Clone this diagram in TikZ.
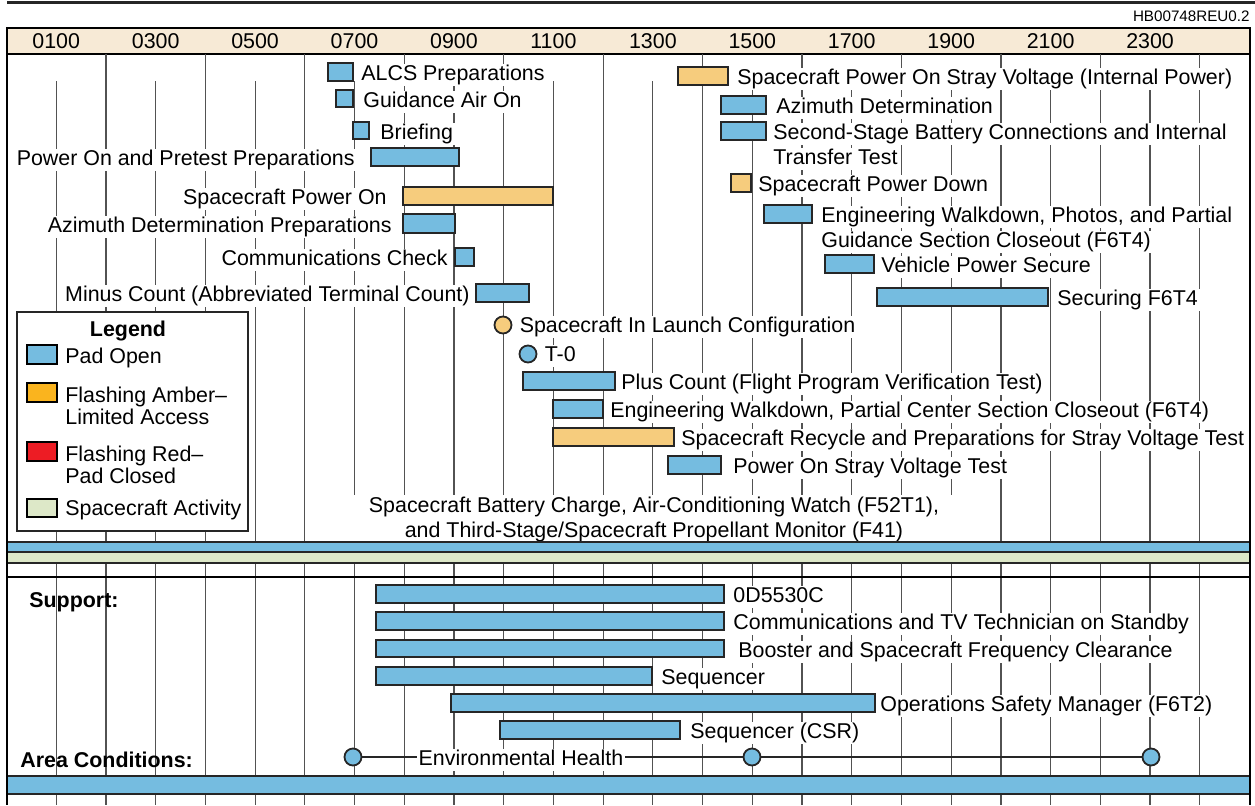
\documentclass[tikz,border=0pt]{standalone}
\usepackage{fontspec}
\setmainfont{Liberation Sans}
\usetikzlibrary{positioning}
\definecolor{padblue}{RGB}{117,188,224}
\definecolor{amberpale}{RGB}{246,204,125}
\definecolor{amberlgd}{RGB}{250,180,30}
\definecolor{redlgd}{RGB}{237,28,36}
\definecolor{scgreen}{RGB}{221,232,200}
\definecolor{hdrbeige}{RGB}{247,234,214}
\definecolor{edgegray}{RGB}{38,38,38}
\tikzset{
  gridline/.style={draw=black!68, line width=0.6pt},
  padbar/.style={draw=edgegray, fill=padblue, line width=0.9pt},
  ambbar/.style={draw=edgegray, fill=amberpale, line width=0.9pt},
  lbl/.style={fill=white, inner xsep=1pt, inner ysep=0.4pt, text height=7.9pt, text depth=2.3pt, yshift=-1pt, font=\fontsize{10.7}{12.5}\selectfont},
  plaintxt/.style={inner sep=0pt, font=\fontsize{10.7}{12.5}\selectfont},
  boldtxt/.style={inner sep=0pt, font=\fontsize{10.7}{12.5}\selectfont\bfseries},
  evtdot/.style={circle, draw=edgegray, line width=0.9pt, minimum size=8.5pt, inner sep=0pt},
  swatch/.style={draw=black, line width=0.9pt},
}
\begin{document}
\begin{tikzpicture}[x=0.5pt, y=-0.5pt]
  \useasboundingbox (0,0) rectangle (1255,805);

  % Top rule and drawing number
  \draw[edgegray, line width=1.5pt] (7,2) -- (1255,2);
  \node[inner sep=0pt, anchor=east, font=\fontsize{7.6}{9}\selectfont] (dwgno) at (1250,16) {HB00748REU0.2};

  % Time header
  \draw[fill=hdrbeige, draw=black, line width=1pt] (7,28) rectangle (1250,54);
  \foreach \h in {1,3,...,23}
    \node[plaintxt] (hr\h) at (6.5+49.72*\h,41.5) {\ifnum\h<10 0\fi\h00};

  % Hour grid
  \foreach \h in {1,...,24}{
    \pgfmathsetmacro\gx{6.5+49.72*\h}
    \pgfmathsetmacro\gtop{mod(\h,2)==1 ? 81 : 54}
    \draw[gridline] (\gx,\gtop) -- (\gx,805);
  }

  % Launch operations, left half
  \draw[padbar] (328,63) rectangle (353,81);
  \node[lbl, anchor=west] (alcs) at (359,73) {ALCS Preparations};
  \draw[padbar] (336,90) rectangle (353,107);
  \node[lbl, anchor=west] (gair) at (361,99.5) {Guidance Air On};
  \draw[padbar] (353,122) rectangle (369,139);
  \node[lbl, anchor=west] (brief) at (378,131.5) {Briefing};
  \draw[padbar] (371,148) rectangle (459,166);
  \node[lbl, anchor=east] (pretest) at (357,158) {Power On and Pretest Preparations};
  \draw[ambbar] (403,187) rectangle (553,205);
  \node[lbl, anchor=east] (scpon) at (389,197) {Spacecraft Power On};
  \draw[padbar] (403,214) rectangle (455,233);
  \node[lbl, anchor=east] (azprep) at (394,224.5) {Azimuth Determination Preparations};
  \draw[padbar] (455,248) rectangle (474,266);
  \node[lbl, anchor=east] (comchk) at (450,258) {Communications Check};
  \draw[padbar] (476,284) rectangle (529,302);
  \node[lbl, anchor=east] (minus) at (472,294) {Minus Count (Abbreviated Terminal Count)};

  % Milestones
  \node[evtdot, fill=amberpale] (lcfg) at (503,325) {};
  \node[lbl, right=2.5pt of lcfg] (lcfgtxt) {Spacecraft In Launch Configuration};
  \node[evtdot, fill=padblue] (tzero) at (528,354) {};
  \node[lbl, right=2.5pt of tzero] (tzerotxt) {T-0};

  \draw[padbar] (523,372) rectangle (615,390);
  \node[lbl, anchor=west] (plus) at (619,382) {Plus Count (Flight Program Verification Test)};
  \draw[padbar] (553,400) rectangle (603,418);
  \node[lbl, anchor=west] (ewalk) at (608,410) {Engineering Walkdown, Partial Center Section Closeout (F6T4)};
  \draw[ambbar] (553,428) rectangle (674,446);
  \node[lbl, anchor=west] (recyc) at (679,438) {Spacecraft Recycle and Preparations for Stray Voltage Test};
  \draw[padbar] (668,456) rectangle (721,474);
  \node[lbl, anchor=west] (posvt) at (731,466) {Power On Stray Voltage Test};

  \node[fill=white, align=center, inner xsep=12pt, inner ysep=1pt, font=\fontsize{10.7}{12.5}\selectfont] (batt) at (654,519) {Spacecraft Battery Charge, Air-Conditioning Watch (F52T1),\\and Third-Stage/Spacecraft Propellant Monitor (F41)};

  % Launch operations, right half
  \draw[ambbar] (678,67) rectangle (728,85);
  \node[lbl, anchor=west] (scpsv) at (735,77) {Spacecraft Power On Stray Voltage (Internal Power)};
  \draw[padbar] (721,96) rectangle (766,114);
  \node[lbl, anchor=west] (azdet) at (774,106) {Azimuth Determination};
  \draw[padbar] (721,122) rectangle (766,140);
  \node[lbl, anchor=west] (sstage) at (771,132) {Second-Stage Battery Connections and Internal};
  \node[lbl, anchor=west] (sstageb) at (771,157) {Transfer Test};
  \draw[ambbar] (731,174) rectangle (751,192);
  \node[lbl, anchor=west] (scpdn) at (756,184) {Spacecraft Power Down};
  \draw[padbar] (764,205) rectangle (812,223);
  \node[lbl, anchor=west] (ewphoto) at (819,215) {Engineering Walkdown, Photos, and Partial};
  \node[lbl, anchor=west] (ewphotob) at (819,240) {Guidance Section Closeout (F6T4)};
  \draw[padbar] (825,255) rectangle (874,273);
  \node[lbl, anchor=west] (vps) at (879,265) {Vehicle Power Secure};
  \draw[padbar] (877,288) rectangle (1048,306);
  \node[lbl, anchor=west] (secure) at (1055,298) {Securing F6T4};

  % Full-width status bands
  \draw[padbar] (7,542) rectangle (1250,552);
  \draw[draw=edgegray, fill=scgreen, line width=0.9pt] (7,552) rectangle (1250,563);
  \draw[black, line width=1pt] (7,577) -- (1250,577);

  % Support
  \node[boldtxt, anchor=west] (support) at (29,602) {Support:};
  \draw[padbar] (376,585) rectangle (724,603);
  \node[lbl, anchor=west] (sup1) at (731,595) {0D5530C};
  \draw[padbar] (376,612) rectangle (724,630);
  \node[lbl, anchor=west] (sup2) at (731,622) {Communications and TV Technician on Standby};
  \draw[padbar] (376,640) rectangle (724,657);
  \node[lbl, anchor=west] (sup3) at (736,650) {Booster and Spacecraft Frequency Clearance};
  \draw[padbar] (376,667) rectangle (652,685);
  \node[lbl, anchor=west] (sup4) at (659,677) {Sequencer};
  \draw[padbar] (451,694) rectangle (875,712);
  \node[lbl, anchor=west] (sup5) at (878,704) {Operations Safety Manager (F6T2)};
  \draw[padbar] (500,721) rectangle (680,739);
  \node[lbl, anchor=west] (sup6) at (688,731) {Sequencer (CSR)};

  % Area conditions
  \node[boldtxt, anchor=west] (areacond) at (20,760) {Area Conditions:};
  \node[evtdot, fill=padblue] (eh1) at (353,757) {};
  \node[evtdot, fill=padblue] (eh2) at (752,757) {};
  \node[evtdot, fill=padblue] (eh3) at (1151,757) {};
  \draw[edgegray, line width=0.9pt] (eh1) -- (eh2) -- (eh3);
  \node[lbl] (envh) at (521,758) {Environmental Health};
  \draw[padbar] (7,776) rectangle (1250,794);

  % Legend
  \draw[fill=white, draw=edgegray, line width=0.8pt] (17,312) rectangle (248,531);
  \node[boldtxt] (lgdtitle) at (128,331) {Legend};
  \draw[swatch, fill=padblue] (27,345) rectangle (57,364);
  \node[plaintxt, anchor=west] (lgdpad) at (65,358) {Pad Open};
  \draw[swatch, fill=amberlgd] (27,383) rectangle (57,402);
  \node[plaintxt, anchor=north west, align=left, font=\fontsize{10.7}{11}\selectfont] (lgdamb) at (65,387) {Flashing Amber--\\Limited Access};
  \draw[swatch, fill=redlgd] (27,442) rectangle (57,461);
  \node[plaintxt, anchor=north west, align=left, font=\fontsize{10.7}{11}\selectfont] (lgdred) at (65,446) {Flashing Red--\\Pad Closed};
  \draw[swatch, fill=scgreen] (27,499) rectangle (57,517);
  \node[plaintxt, anchor=west] (lgdsc) at (65,510) {Spacecraft Activity};

  % Side borders
  \draw[black, line width=1.3pt] (7,28) -- (7,805);
  \draw[black, line width=1.3pt] (1250,28) -- (1250,805);
\end{tikzpicture}
\end{document}
